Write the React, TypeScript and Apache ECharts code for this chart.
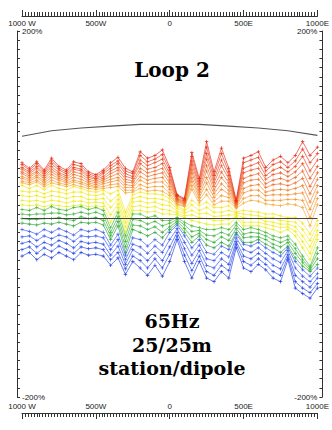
import React, { useEffect, useRef } from "react";
import * as echarts from "echarts";

// station positions along the profile (m, W negative / E positive)
const stations = [
  -1000, -950, -900, -850, -800, -750, -700, -650, -600, -550, -500, -450, -400, -350, -300, -250, -200, -150, -100, -50,
  0, 50, 100, 150, 200, 250, 300, 350, 400, 450, 500, 550, 600, 650, 700, 750, 800, 850, 900, 950, 1000,
];

// apparent-resistivity style curves (% values), top to bottom
const red1 = [56,50,57,48,61,52,48,57,55,46,43,48,56,62,50,46,68,61,64,70,51,21,17,67,39,79,46,72,50,15,61,64,68,51,59,63,56,64,79,64,73];
const red2 = [54,48,55,46,58,50,46,54,52,44,41,46,53,58,47,44,64,57,60,65,48,20,16,63,36,73,42,66,46,14,56,59,62,47,54,57,51,58,71,56,66];
const red3 = [51,46,52,44,55,48,44,51,49,42,39,44,50,55,44,41,59,53,56,60,44,19,15,58,33,66,38,59,42,13,50,53,56,42,48,51,46,52,63,47,59];
const red4 = [49,44,50,42,52,45,42,49,47,40,38,41,47,51,41,39,55,49,51,55,41,17,14,54,30,60,34,53,38,12,45,48,50,38,43,45,41,46,55,39,52];
const red5 = [46,42,47,40,49,43,40,46,44,38,36,39,44,48,38,36,50,45,47,50,37,16,13,49,27,53,30,46,34,11,39,42,44,33,37,39,36,40,47,30,45];
const red6 = [44,40,45,38,46,41,38,43,41,36,34,37,41,44,35,34,46,41,43,45,34,15,12,45,24,47,26,40,30,10,34,37,38,29,32,33,31,34,39,22,38];
const orange1 = [41,38,42,36,43,39,36,40,38,34,32,35,38,40,32,31,41,37,39,40,30,14,11,40,21,40,22,33,26,9,28,31,32,24,26,27,26,28,31,13,31];
const orange2 = [39,36,40,34,40,37,34,37,35,32,30,33,35,37,29,29,37,33,35,35,27,13,10,36,18,34,18,27,22,8,23,26,26,20,21,21,21,22,23,5,24];
const orange3 = [36,34,37,32,37,34,32,35,33,30,29,30,32,33,26,26,32,29,30,30,23,11,9,31,15,27,14,20,18,7,17,20,20,15,15,15,16,16,15,-4,17];
const orange4 = [34,32,35,30,34,32,30,32,30,28,27,28,29,30,23,24,28,25,26,25,20,10,8,27,12,21,10,14,14,6,12,15,14,11,10,9,11,10,7,-13,10];
const yellow1 = [31,28,31,27,31,28,26,30,28,25,24,26,22,26,2,21,24,22,22,21,17,8,5,15,9,13,7,7,9,2,4,3,2,0,0,-2,-4,-4,-10,-22,-7];
const yellow2 = [25,24,25,22,25,24,22,24,24,21,20,22,14,21,-3,17,19,17,17,16,13,6,3,10,4,7,2,2,4,1,0,-1,-2,-4,-4,-7,-8,-9,-17,-29,-12];
const yellow3 = [20,19,20,18,20,19,17,19,19,16,16,17,7,16,-9,13,14,12,13,10,9,3,1,4,0,1,-3,-2,-1,-1,-4,-5,-5,-8,-9,-11,-11,-14,-24,-36,-18];
const yellow4 = [15,14,15,13,15,14,12,14,14,12,13,12,-1,11,-14,8,9,7,8,5,4,1,-2,-1,-4,-5,-7,-7,-6,-3,-9,-9,-9,-11,-13,-15,-14,-19,-30,-43,-23];
const yellow5 = [10,9,10,8,10,9,8,9,10,8,9,8,-9,7,-20,4,4,2,3,0,0,-1,-4,-7,-9,-11,-12,-11,-11,-4,-13,-13,-13,-15,-17,-20,-17,-24,-37,-50,-28];
const green1 = [5,4,7,4,8,5,4,7,8,5,7,4,-15,2,-24,0,0,-4,-2,-7,-7,-4,-9,-13,-15,-17,-17,-15,-17,-9,-17,-15,-17,-20,-24,-26,-24,-33,-46,-57,-37];
const green2 = [0,-1,0,0,1,1,-1,0,2,0,2,-1,-20,-3,-30,-6,-7,-11,-8,-13,-10,-6,-12,-19,-18,-23,-24,-20,-23,-12,-22,-20,-21,-24,-28,-31,-28,-38,-50,-59,-43];
const green3 = [-5,-6,-6,-5,-5,-4,-6,-7,-3,-5,-4,-7,-24,-8,-36,-12,-13,-17,-14,-20,-14,-8,-16,-25,-21,-28,-31,-25,-29,-16,-26,-25,-25,-28,-33,-36,-31,-43,-53,-61,-49];
const green4 = [-10,-11,-12,-10,-11,-9,-11,-13,-9,-10,-9,-12,-28,-13,-42,-17,-20,-24,-20,-26,-17,-10,-20,-31,-24,-34,-37,-31,-35,-20,-31,-31,-28,-33,-37,-42,-35,-48,-57,-63,-55];
const blue1 = [-17,-19,-22,-17,-20,-16,-19,-23,-17,-19,-17,-20,-34,-22,-45,-26,-28,-35,-28,-34,-20,-12,-24,-37,-28,-42,-44,-35,-39,-22,-33,-35,-31,-37,-42,-46,-37,-52,-61,-68,-59];
const blue2 = [-25,-24,-29,-24,-27,-23,-25,-30,-24,-25,-24,-26,-39,-28,-50,-33,-36,-43,-35,-42,-28,-16,-31,-45,-34,-49,-51,-42,-47,-26,-39,-42,-37,-43,-49,-53,-40,-59,-68,-74,-65];
const blue3 = [-32,-30,-36,-31,-34,-29,-32,-37,-30,-32,-31,-33,-45,-35,-55,-39,-44,-51,-42,-51,-36,-20,-38,-54,-40,-56,-59,-49,-55,-30,-46,-49,-43,-49,-56,-60,-44,-67,-74,-80,-70];
const blue4 = [-39,-36,-43,-37,-41,-35,-39,-43,-36,-38,-37,-39,-50,-42,-60,-46,-51,-59,-49,-59,-44,-24,-45,-62,-46,-63,-67,-56,-62,-33,-52,-56,-49,-55,-63,-67,-47,-74,-81,-86,-76];
const blue5 = [-46,-42,-50,-44,-48,-42,-46,-50,-42,-45,-44,-46,-56,-48,-66,-52,-59,-67,-56,-68,-52,-28,-52,-70,-52,-70,-74,-63,-70,-37,-59,-63,-55,-61,-70,-74,-50,-81,-87,-92,-81];

const curves = [
  red1, red2, red3, red4, red5, red6,
  orange1, orange2, orange3, orange4,
  yellow1, yellow2, yellow3, yellow4, yellow5,
  green1, green2, green3, green4,
  blue1, blue2, blue3, blue4, blue5,
];
const curveColors = [
  "#e4200c", "#e62c0e", "#e83a12", "#ea4a16", "#ec5a1a", "#ee681d",
  "#f07a20", "#f28824", "#f49628", "#f6a42c",
  "#f4e418", "#f2e612", "#f0e810", "#ecea12", "#e6ea14",
  "#3cb42c", "#32ae2e", "#2aa830", "#22a232",
  "#3454f0", "#2c4cee", "#2444ea", "#1c3ce6", "#1434e2",
];

// reference arch (gray)
const archX = [-1000, -800, -600, -400, -200, 0, 200, 400, 600, 800, 1000];
const archY = [85, 91, 94, 96, 98, 98, 98, 96, 94, 91, 86];
const baseLineValue = -5;

const xTickValues = [-1000, -500, 0, 500, 1000];
const xTickLabels = ["1000 W", "500W", "0", "500E", "1000E"];
const yTopLabel = "200%";
const yBottomLabel = "-200%";

const titleText = "Loop 2";
const infoLines = ["65Hz", "25/25m", "station/dipole"];

const plusSymbol = "path://M4,0H6V4H10V6H6V10H4V6H0V4H4Z";

export default function App() {
  const ref = useRef<HTMLDivElement>(null);
  useEffect(() => {
    if (!ref.current) return;
    const chart = echarts.init(ref.current, undefined, { renderer: "svg" });
    const axisColor = "#333";
    const labelFont = "Liberation Sans";
    const xFmt = (v: number) => {
      const k = xTickValues.indexOf(v);
      return k >= 0 ? xTickLabels[k] : "";
    };
    const yFmt = (v: number) => (v === 200 ? "{t|" + yTopLabel + "}" : v === -200 ? "{b|" + yBottomLabel + "}" : "");
    const xAxisBase = (position: "top" | "bottom", offset: number) => ({
      type: "value",
      position,
      offset,
      min: -1000,
      max: 1000,
      interval: 500,
      axisLine: { show: true, onZero: false, lineStyle: { color: axisColor, width: 1 } },
      axisTick: { show: true, length: 6, lineStyle: { color: axisColor, width: 1 } },
      minorTick: { show: true, splitNumber: 25, length: 4, lineStyle: { color: axisColor, width: 1 } },
      splitLine: { show: false },
      minorSplitLine: { show: false },
      axisLabel: {
        inside: true,
        margin: 3,
        fontSize: 8,
        fontFamily: labelFont,
        color: "#222",
        formatter: xFmt,
        showMinLabel: true,
        showMaxLabel: true,
      },
    });
    const yAxisBase = (position: "left" | "right") => ({
      type: "value",
      position,
      offset: 5,
      min: -200,
      max: 200,
      interval: 10,
      axisLine: { show: true, onZero: false, lineStyle: { color: axisColor, width: 1 } },
      axisTick: { show: true, inside: true, length: 3, lineStyle: { color: axisColor, width: 1 } },
      splitLine: { show: false },
      axisLabel: {
        inside: true,
        margin: 5,
        fontSize: 8,
        fontFamily: labelFont,
        color: "#222",
        formatter: yFmt,
        rich: {
          t: { fontSize: 8, fontFamily: labelFont, color: "#222", height: 14, verticalAlign: "bottom" },
          b: { fontSize: 8, fontFamily: labelFont, color: "#222", height: 16, verticalAlign: "top" },
        },
      },
    });

    const curveSeries = curves.map((vals, idx) => ({
      type: "line",
      xAxisIndex: 0,
      yAxisIndex: 0,
      data: stations.map((x, i) => [x, vals[i]]),
      symbol: plusSymbol,
      symbolSize: 3.5,
      showSymbol: true,
      silent: true,
      z: 2,
      lineStyle: { color: curveColors[idx], width: 0.7, opacity: 0.9 },
      itemStyle: { color: curveColors[idx], opacity: 0.9 },
    }));

    const serif = '"DejaVu Serif"';
    const textEl = (text: string, y: number, size: number) => ({
      type: "text",
      x: 172,
      y,
      z: 10,
      style: {
        text,
        fill: "#000",
        font: "bold " + size + "px " + serif,
        textAlign: "center",
        textVerticalAlign: "middle",
        align: "center",
        verticalAlign: "middle",
      },
    });

    chart.setOption({
      animation: false,
      backgroundColor: "#fff",
      grid: { left: 22, right: 9, top: 31, bottom: 33 },
      xAxis: [xAxisBase("top", 15), xAxisBase("bottom", 16)],
      yAxis: [yAxisBase("left"), yAxisBase("right")],
      series: [
        ...curveSeries,
        {
          type: "line",
          xAxisIndex: 0,
          yAxisIndex: 0,
          data: archX.map((x, i) => [x, archY[i]]),
          symbol: "none",
          silent: true,
          z: 5,
          lineStyle: { color: "#555", width: 1.2 },
          markLine: {
            silent: true,
            symbol: "none",
            label: { show: false },
            lineStyle: { color: "#444", width: 1, type: "solid" },
            data: [{ yAxis: baseLineValue }],
          },
        },
      ],
      graphic: [
        textEl(titleText, 70, 20),
        textEl(infoLines[0], 321, 19),
        textEl(infoLines[1], 345, 19),
        textEl(infoLines[2], 368, 19),
      ],
    });
    return () => chart.dispose();
  }, []);
  return (
    <div
      ref={ref}
      style={{ position: "fixed", left: 0, top: 0, width: 332, height: 430, background: "#fff" }}
    />
  );
}
